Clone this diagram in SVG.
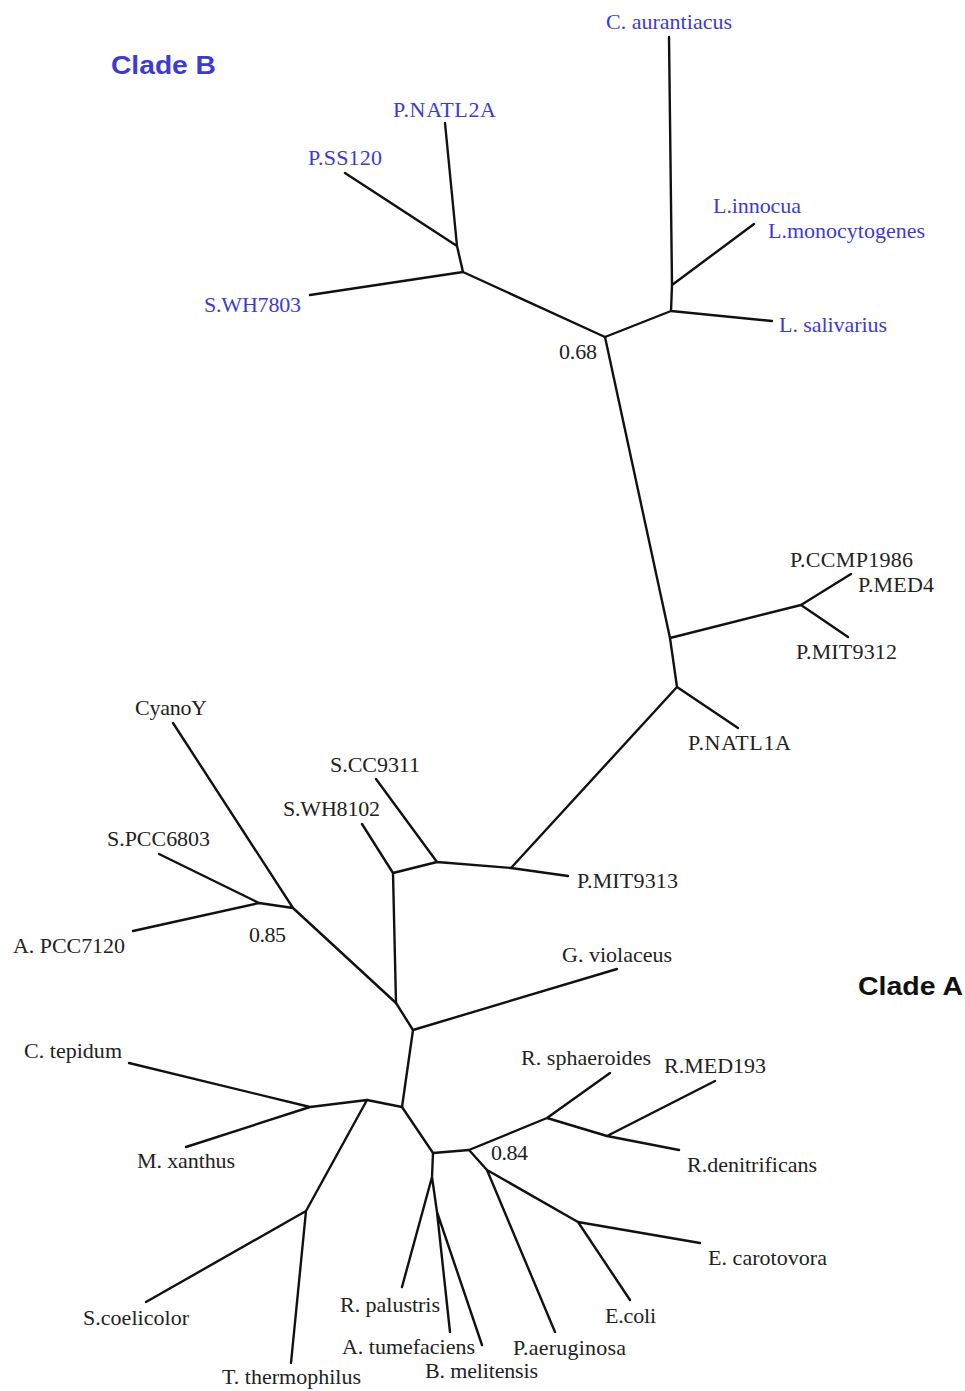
<svg xmlns="http://www.w3.org/2000/svg" width="965" height="1391" viewBox="0 0 965 1391">
<style>
.e{fill:none;stroke:#111;stroke-width:2.4;stroke-linecap:round;stroke-linejoin:round}
.t{font-family:"Liberation Serif","Times New Roman",serif;font-size:22px;fill:#222}
.b{fill:#3b3bd4}
.c{font-family:"Liberation Sans",Arial,sans-serif;font-size:26px;font-weight:bold}
</style>
<rect width="965" height="1391" fill="#fff"/>
<g id="connectors">
<path class="e" d="M605,337L463,272L457,246L445,123M457,246L345,173M463,272L310,295"/>
<path class="e" d="M605,337L671,311L672,285L669,37M672,285L754,224M671,311L772,321"/>
<path class="e" d="M605,337L670,638L801,605L851,574M801,605L848,637M670,638L677,687L738,728M677,687L511,868L568,876M511,868L437,862L376,779M437,862L393,873L362,824M393,873L396,1003"/>
<path class="e" d="M396,1003L293,908L173,723M293,908L259,903L159,854M259,903L133,931"/>
<path class="e" d="M396,1003L413,1030L617,969M413,1030L402,1107L367,1100L310,1107L129,1063M310,1107L186,1147M367,1100L306,1211L146,1302M306,1211L291,1363"/>
<path class="e" d="M402,1107L433,1153L432,1177L402,1287M432,1177L437,1212L450,1332M437,1212L482,1345"/>
<path class="e" d="M433,1153L469,1150L547,1118L610,1073M547,1118L607,1136L715,1081M607,1136L679,1150"/>
<path class="e" d="M469,1150L487,1170L555,1332M487,1170L578,1222L700,1243M578,1222L630,1300"/>
</g>
<g id="clade-b-title"><text class="c b" x="111" y="74" textLength="105" lengthAdjust="spacingAndGlyphs" fill="#2e2ed8">Clade B</text></g>
<g id="clade-a-title"><text class="c" x="858" y="995" textLength="105" lengthAdjust="spacingAndGlyphs" fill="#111">Clade A</text></g>
<g id="n-caurantiacus"><text class="t b" x="606" y="29" textLength="126">C. aurantiacus</text></g>
<g id="n-pnatl2a"><text class="t b" x="393" y="117" textLength="103">P.NATL2A</text></g>
<g id="n-pss120"><text class="t b" x="308" y="165" textLength="74">P.SS120</text></g>
<g id="n-linnocua"><text class="t b" x="713" y="213" textLength="88">L.innocua</text></g>
<g id="n-lmonocytogenes"><text class="t b" x="768" y="238" textLength="157">L.monocytogenes</text></g>
<g id="n-swh7803"><text class="t b" x="204" y="312" textLength="97">S.WH7803</text></g>
<g id="n-lsalivarius"><text class="t b" x="779" y="332" textLength="108">L. salivarius</text></g>
<g id="s-068"><text class="t" x="559" y="359" textLength="38">0.68</text></g>
<g id="n-pccmp1986"><text class="t" x="790" y="567" textLength="123">P.CCMP1986</text></g>
<g id="n-pmed4"><text class="t" x="858" y="592" textLength="76">P.MED4</text></g>
<g id="n-pmit9312"><text class="t" x="796" y="659" textLength="101">P.MIT9312</text></g>
<g id="n-cyanoy"><text class="t" x="135" y="715" textLength="72">CyanoY</text></g>
<g id="n-pnatl1a"><text class="t" x="688" y="750" textLength="103">P.NATL1A</text></g>
<g id="n-scc9311"><text class="t" x="330" y="772" textLength="90">S.CC9311</text></g>
<g id="n-swh8102"><text class="t" x="283" y="816" textLength="97">S.WH8102</text></g>
<g id="n-spcc6803"><text class="t" x="107" y="846" textLength="103">S.PCC6803</text></g>
<g id="n-pmit9313"><text class="t" x="577" y="888" textLength="101">P.MIT9313</text></g>
<g id="s-085"><text class="t" x="249" y="942" textLength="37">0.85</text></g>
<g id="n-apcc7120"><text class="t" x="13" y="953" textLength="112">A. PCC7120</text></g>
<g id="n-gviolaceus"><text class="t" x="562" y="962" textLength="110">G. violaceus</text></g>
<g id="n-ctepidum"><text class="t" x="24" y="1058" textLength="98">C. tepidum</text></g>
<g id="n-rsphaeroides"><text class="t" x="521" y="1065" textLength="130">R. sphaeroides</text></g>
<g id="n-rmed193"><text class="t" x="664" y="1073" textLength="102">R.MED193</text></g>
<g id="s-084"><text class="t" x="491" y="1160" textLength="37">0.84</text></g>
<g id="n-mxanthus"><text class="t" x="137" y="1168" textLength="98">M. xanthus</text></g>
<g id="n-rdenitrificans"><text class="t" x="687" y="1172" textLength="130">R.denitrificans</text></g>
<g id="n-ecarotovora"><text class="t" x="708" y="1265" textLength="119">E. carotovora</text></g>
<g id="n-rpalustris"><text class="t" x="340" y="1312" textLength="100">R. palustris</text></g>
<g id="n-ecoli"><text class="t" x="605" y="1323" textLength="51">E.coli</text></g>
<g id="n-scoelicolor"><text class="t" x="83" y="1325" textLength="106">S.coelicolor</text></g>
<g id="n-atumefaciens"><text class="t" x="342" y="1354" textLength="133">A. tumefaciens</text></g>
<g id="n-paeruginosa"><text class="t" x="513" y="1355" textLength="113">P.aeruginosa</text></g>
<g id="n-bmelitensis"><text class="t" x="425" y="1378" textLength="113">B. melitensis</text></g>
<g id="n-tthermophilus"><text class="t" x="222" y="1384" textLength="139">T. thermophilus</text></g>
</svg>
